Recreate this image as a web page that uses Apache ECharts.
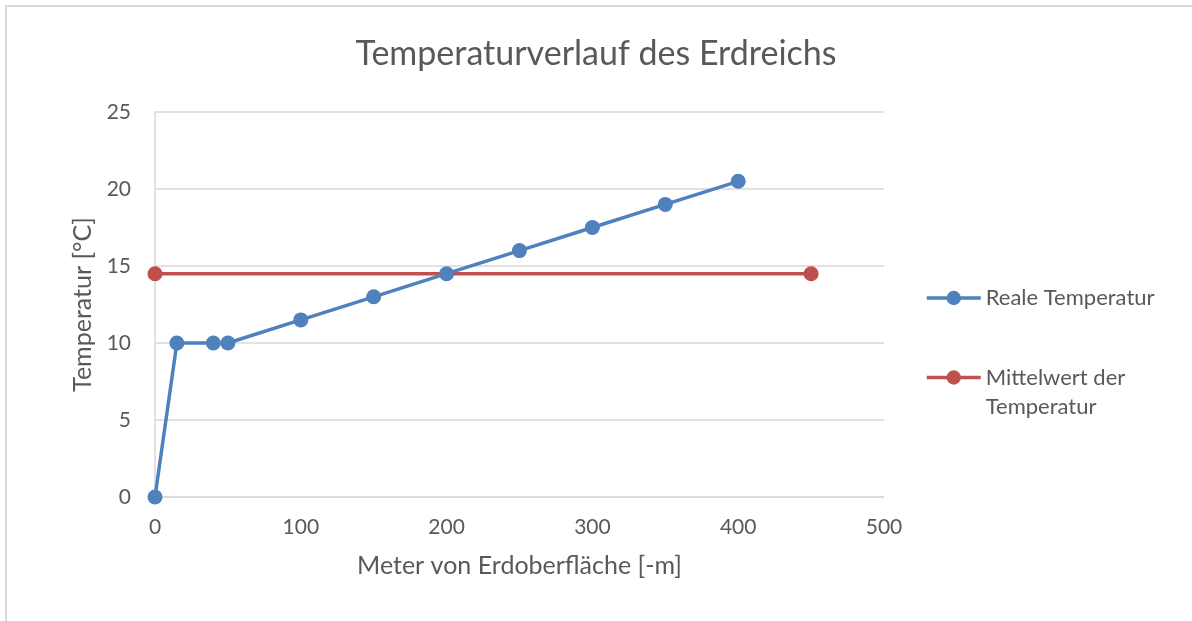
<!DOCTYPE html>
<html>
<head>
<meta charset="utf-8">
<script src="https://cdn.jsdelivr.net/npm/echarts@6/dist/echarts.min.js"></script>
<style>
html, body { margin: 0; padding: 0; background: #fff; }
#frame { position: absolute; left: 5px; top: 5px; width: 1200px; height: 700px; border-left: 2px solid #d9d9d9; border-top: 2px solid #d9d9d9; }
#chart { position: absolute; left: 0; top: 0; width: 1192px; height: 621px; }
</style>
</head>
<body>
<div id="frame"></div>
<div id="chart"></div>
<script type="text/javascript">

// Tiefe in m und gemessene Temperatur
var depth = [0, 15, 40, 50, 100, 150, 200, 250, 300, 350, 400];
var temp = [0, 10, 10, 10, 11.5, 13, 14.5, 16, 17.5, 19, 20.5];

// Mittelwert
var meanDepth = [0, 450];
var meanTemp = [14.5, 14.5];

var seriesNames = ['Reale Temperatur', 'Mittelwert der Temperatur'];

function pairs(xs, ys) {
    var out = [];
    for (var i = 0; i < xs.length; i++) out.push([xs[i], ys[i]]);
    return out;
}

var font = 'Lato';
var grey = '#595959';

var option = {
    animation: false,
    textStyle: { fontFamily: font },
    title: {
        text: 'Temperaturverlauf des Erdreichs',
        left: 'center',
        top: 32,
        textStyle: { fontFamily: font, fontSize: 34, fontWeight: 'normal', color: grey }
    },
    legend: [
        {
            data: [seriesNames[0]],
            left: 925,
            top: 285,
            padding: 0,
            itemWidth: 54,
            itemHeight: 18,
            lineStyle: { width: 3.5 },
            textStyle: { fontFamily: font, fontSize: 22, color: grey, lineHeight: 26 }
        },
        {
            data: [seriesNames[1]],
            left: 925,
            top: 334,
            padding: 0,
            itemWidth: 54,
            itemHeight: 18,
            lineStyle: { width: 3.5 },
            formatter: function () { return ' \nMittelwert der\nTemperatur'; },
            textStyle: { fontFamily: font, fontSize: 22, color: grey, lineHeight: 29 }
        }
    ],
    grid: { left: 155, right: 308, top: 112, bottom: 124 },
    xAxis: {
        type: 'value',
        min: 0, max: 500, interval: 100,
        name: 'Meter von Erdoberfläche [-m]',
        nameLocation: 'middle',
        nameGap: 56,
        nameTextStyle: { fontFamily: font, fontSize: 25, color: grey },
        axisLine: { show: true, lineStyle: { color: '#d9d9d9', width: 1.5 } },
        axisTick: { show: false },
        axisLabel: { margin: 20, fontFamily: font, fontSize: 21, color: grey },
        splitLine: { show: false }
    },
    yAxis: {
        type: 'value',
        min: 0, max: 25, interval: 5,
        name: 'Temperatur [°C]',
        nameLocation: 'middle',
        nameGap: 54,
        nameTextStyle: { fontFamily: font, fontSize: 25, color: grey },
        axisLine: { show: true, lineStyle: { color: '#d9d9d9', width: 1.5 } },
        axisTick: { show: false },
        axisLabel: { margin: 24, fontFamily: font, fontSize: 21, color: grey },
        splitLine: { show: true, lineStyle: { color: '#d9d9d9', width: 1.5 } }
    },
    series: [
        {
            name: seriesNames[0],
            type: 'line',
            data: pairs(depth, temp),
            symbol: 'circle',
            symbolSize: 15,
            z: 3,
            itemStyle: { color: '#4F81BD' },
            lineStyle: { color: '#4F81BD', width: 3.5 }
        },
        {
            name: seriesNames[1],
            type: 'line',
            data: pairs(meanDepth, meanTemp),
            symbol: 'circle',
            symbolSize: 15,
            z: 2,
            itemStyle: { color: '#C0504D' },
            lineStyle: { color: '#C0504D', width: 3.5 }
        }
    ]
};

var chart = echarts.init(document.getElementById('chart'));
chart.setOption(option);
</script>
</body>
</html>
